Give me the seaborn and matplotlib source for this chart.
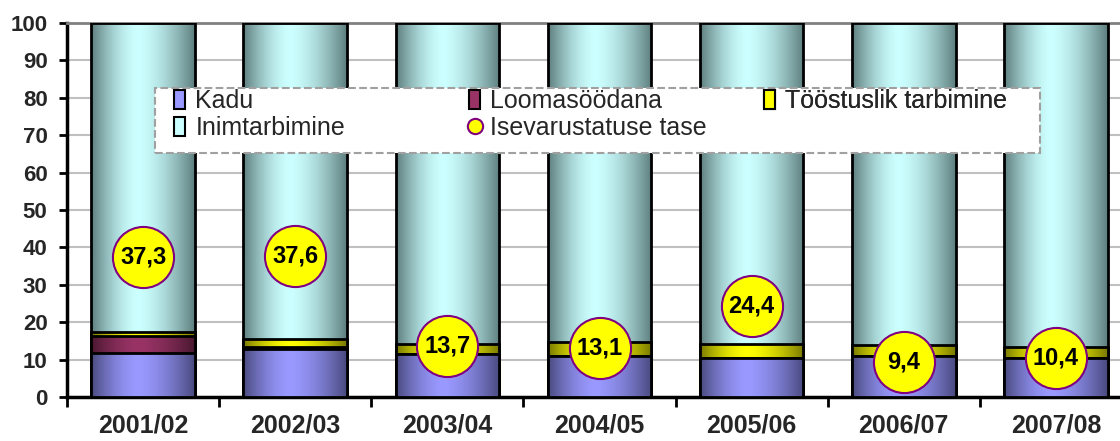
import numpy as np
import pandas as pd
import matplotlib.pyplot as plt
import matplotlib.patches as mpatches
from matplotlib.lines import Line2D
from matplotlib.colors import to_rgb
import seaborn as sns

years = ['2001/02', '2002/03', '2003/04', '2004/05', '2005/06', '2006/07', '2007/08']
kadu = [11.7, 12.9, 11.6, 11.0, 10.5, 11.0, 10.5]
loomasoodana = [4.6, 0.5, 0.0, 0.0, 0.0, 0.0, 0.0]
toostuslik = [1.2, 2.2, 2.5, 3.8, 3.6, 3.0, 3.0]
inimtarbimine = [82.5, 84.4, 85.9, 85.2, 85.9, 86.0, 86.5]
isevarustatus = [37.3, 37.6, 13.7, 13.1, 24.4, 9.4, 10.4]

sns.set_theme(style="white")
plt.rcParams['font.family'] = ['Liberation Sans', 'DejaVu Sans']

df = pd.DataFrame({'year': years, 'kadu': kadu, 'loom': loomasoodana,
                   'toos': toostuslik, 'inim': inimtarbimine, 'ise': isevarustatus})

# stacked by overlaying cumulative totals, tallest first
layers = [
    ('inim', '#ccffff', '#5f7f7f'),
    ('toos', '#ffff00', '#7a7a00'),
    ('loom', '#993366', '#4a1830'),
    ('kadu', '#9999ff', '#4a4a80'),
]
order = ['kadu', 'loom', 'toos', 'inim']

fig = plt.figure(figsize=(11.2, 4.41), dpi=100)
ax = fig.add_axes([67 / 1120, 44 / 441, 1065 / 1120, 374 / 441])


def shade(patch, light, dark, z):
    x, y = patch.get_x(), patch.get_y()
    w, h = patch.get_width(), patch.get_height()
    t = np.linspace(0, 1, 80)
    d = np.where(t < 0.45, (0.45 - t) / 0.45, (t - 0.45) / 0.55)
    b = 1 - d ** 1.6
    lo, hi = np.array(to_rgb(dark)), np.array(to_rgb(light))
    cols = lo + (hi - lo) * b[:, None]
    im = ax.imshow(cols[None, :, :], extent=[x, x + w, y, y + h], aspect='auto',
                   zorder=z, interpolation='bilinear')
    im.set_clip_path(patch)


for i, (col, light, dark) in enumerate(layers):
    cols_below = order[:order.index(col) + 1]
    df['top'] = df[cols_below].sum(axis=1)
    z = 2 + i * 2
    sns.barplot(data=df, x='year', y='top', color=light, width=0.68,
                edgecolor='black', linewidth=2, zorder=z + 1, ax=ax)
    for p in ax.containers[-1]:
        p.set_facecolor('none')
        shade(p, light, dark, z)

sns.pointplot(data=df, x='year', y='ise', errorbar=None, linestyle='none',
              marker='o', markersize=44, color='#ffff00',
              markeredgecolor='#800080', markeredgewidth=1.5, zorder=20, ax=ax)
for i, v in enumerate(isevarustatus):
    ax.text(i, v, f"{v:.1f}".replace('.', ','), ha='center', va='center',
            fontsize=17, fontweight='bold', color='black', zorder=21)

ax.set_xlim(-0.5, 6.5)
ax.set_ylim(0, 100)
ax.set_yticks(range(0, 101, 10))
ax.set_xticks(range(len(years)))
ax.set_xticklabels(years)
ax.set_xticks(np.arange(-0.5, 7, 1), minor=True)
ax.set_xlabel('')
ax.set_ylabel('')
ax.yaxis.grid(True, color='#c0c0c0', linewidth=1.5, zorder=0)
ax.set_axisbelow(True)
ax.tick_params(axis='y', length=6, width=2, color='black', labelsize=16, pad=8, left=True)
ax.tick_params(axis='x', which='major', length=0, labelsize=18, pad=12)
ax.tick_params(axis='x', which='minor', length=7, width=2, color='black', bottom=True)
for lab in ax.get_xticklabels() + ax.get_yticklabels():
    lab.set_fontweight('bold')
for s in ['left', 'bottom']:
    ax.spines[s].set_color('black')
    ax.spines[s].set_linewidth(2.5)
ax.spines['top'].set_color('#808080')
ax.spines['top'].set_linewidth(2)
ax.spines['right'].set_visible(False)


def px(x, y):
    return ((x - 67) / 1065, (397 - y) / 374)


# legend frame
fx0, fy0 = px(155, 153)
fx1, fy1 = px(1040, 88)
frame = mpatches.Rectangle((fx0, fy0), fx1 - fx0, fy1 - fy0, transform=ax.transAxes,
                           facecolor='white', edgecolor='#a0a0a0', linestyle='--',
                           linewidth=1.5, zorder=29)
ax.add_patch(frame)


def sq(c):
    return mpatches.Patch(facecolor=c, edgecolor='black', linewidth=1.5)


ise_handle = Line2D([], [], marker='o', linestyle='none', markerfacecolor='#ffff00',
                    markeredgecolor='#800080', markeredgewidth=1.5, markersize=11)
columns = [
    (174, [sq('#9999ff'), sq('#ccffff')], ['Kadu', 'Inimtarbimine']),
    (469, [sq('#993366'), ise_handle], ['Loomasöödana', 'Isevarustatuse tase']),
    (764, [sq('#ffff00')], ['Tööstuslik tarbimine']),
]
for xpix, hs, labels in columns:
    leg = ax.legend(hs, labels, loc='upper left', bbox_to_anchor=px(xpix, 89),
                    fontsize=18, frameon=False, handlelength=0.45, handleheight=0.8,
                    handletextpad=0.4, labelspacing=0.12, borderpad=0,
                    borderaxespad=0)
    leg.set_zorder(30)
    ax.add_artist(leg)

plt.savefig('out.png', dpi=100)
